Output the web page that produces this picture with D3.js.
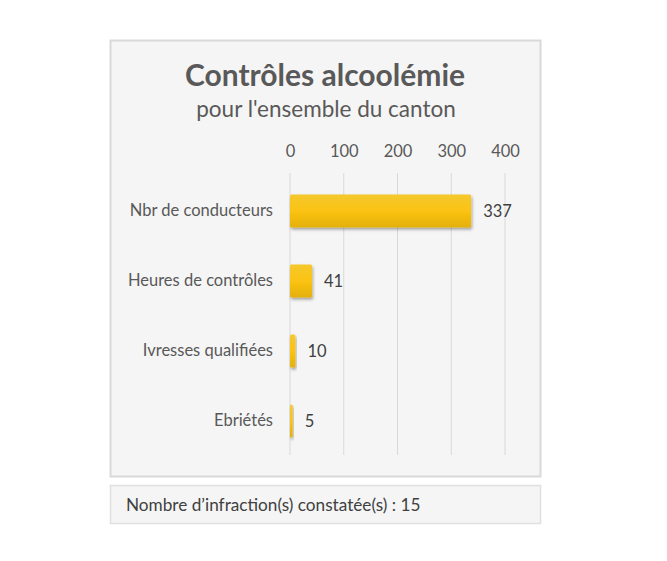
<!DOCTYPE html>
<html>
<head>
<meta charset="utf-8">
<script src="https://cdn.jsdelivr.net/npm/d3@7"></script>
<style>
  body { margin: 0; background: #fff; }
  svg { display: block; font-family: "Lato", "Open Sans", sans-serif; }
</style>
</head>
<body>
<div id="chart"></div>
<script>
// Data
var categories = ["Nbr de conducteurs", "Heures de contrôles", "Ivresses qualifiées", "Ebriétés"];
var values = [337, 41, 10, 5];
var tickValues = [0, 100, 200, 300, 400];
var infractions = 15;

var width = 667, height = 561;

var svg = d3.select("#chart").append("svg")
    .attr("width", width)
    .attr("height", height);

// Gradient and shadow for the bars
var defs = svg.append("defs");
var grad = defs.append("linearGradient")
    .attr("id", "barGrad")
    .attr("x1", 0).attr("y1", 0).attr("x2", 0).attr("y2", 1);
grad.append("stop").attr("offset", "0%").attr("stop-color", "#f5c82e");
grad.append("stop").attr("offset", "50%").attr("stop-color", "#fbc312");
grad.append("stop").attr("offset", "100%").attr("stop-color", "#e4b00c");

var shadow = defs.append("filter").attr("id", "shadow")
    .attr("x", "-20%").attr("y", "-20%").attr("width", "140%").attr("height", "150%");
shadow.append("feDropShadow")
    .attr("dx", 1).attr("dy", 2).attr("stdDeviation", 1.6)
    .attr("flood-color", "#000").attr("flood-opacity", 0.35);

// Chart panel
svg.append("rect")
    .attr("x", 110.5).attr("y", 40.5)
    .attr("width", 430).attr("height", 436)
    .attr("fill", "#f5f5f5")
    .attr("stroke", "#d9d9d9")
    .attr("stroke-width", 2);

// Footer panel
svg.append("rect")
    .attr("x", 110.5).attr("y", 485.5)
    .attr("width", 430).attr("height", 38)
    .attr("fill", "#f5f5f5")
    .attr("stroke", "#e0e0e0")
    .attr("stroke-width", 1.5);

// Titles
svg.append("text")
    .attr("x", 325).attr("y", 86)
    .attr("text-anchor", "middle")
    .attr("font-size", 30)
    .attr("font-weight", "bold")
    .attr("fill", "#595959")
    .text("Contrôles alcoolémie");

svg.append("text")
    .attr("x", 326).attr("y", 117)
    .attr("text-anchor", "middle")
    .attr("font-size", 22.5)
    .attr("fill", "#595959")
    .text("pour l'ensemble du canton");

// Scales
var x = d3.scaleLinear().domain([0, 400]).range([290, 505]);
var y = d3.scaleBand().domain(categories)
    .range([176, 456])
    .paddingInner(0.53)
    .paddingOuter(0.265);

// Gridlines
svg.append("g")
    .selectAll("line")
    .data(tickValues)
    .join("line")
    .attr("x1", function (d) { return x(d); })
    .attr("x2", function (d) { return x(d); })
    .attr("y1", 173).attr("y2", 455)
    .attr("stroke", "#d9d9d9")
    .attr("stroke-width", 1);

// Top axis
var axis = svg.append("g")
    .attr("transform", "translate(0,157)")
    .call(d3.axisTop(x).tickValues(tickValues).tickSize(0).tickPadding(0));
axis.select(".domain").remove();
axis.selectAll("text")
    .attr("font-family", "Lato, 'Open Sans', sans-serif")
    .attr("font-size", 16.5)
    .attr("fill", "#595959")
    .attr("dy", 0);

// Category labels
var yAxis = svg.append("g")
    .attr("transform", "translate(273,0)")
    .call(d3.axisLeft(y).tickSize(0).tickPadding(0));
yAxis.select(".domain").remove();
yAxis.selectAll("text")
    .attr("font-family", "Lato, 'Open Sans', sans-serif")
    .attr("font-size", 16.5)
    .attr("fill", "#595959");

// Bars
var rows = categories.map(function (c, i) { return { name: c, value: values[i] }; });

svg.append("g")
    .selectAll("rect")
    .data(rows)
    .join("rect")
    .attr("x", x(0))
    .attr("y", function (d) { return y(d.name); })
    .attr("width", function (d) { return x(d.value) - x(0); })
    .attr("height", y.bandwidth())
    .attr("rx", 1.5)
    .attr("fill", "url(#barGrad)")
    .attr("filter", "url(#shadow)");

// Value labels
svg.append("g")
    .selectAll("text")
    .data(rows)
    .join("text")
    .attr("x", function (d) { return x(d.value) + 12; })
    .attr("y", function (d) { return y(d.name) + y.bandwidth() / 2; })
    .attr("dy", "0.35em")
    .attr("font-size", 16.5)
    .attr("fill", "#404040")
    .text(function (d) { return d.value; });

// Footer text
svg.append("text")
    .attr("x", 126).attr("y", 511)
    .attr("font-size", 17.2)
    .attr("fill", "#404040")
    .text("Nombre d’infraction(s) constatée(s) : " + infractions);
</script>
</body>
</html>
